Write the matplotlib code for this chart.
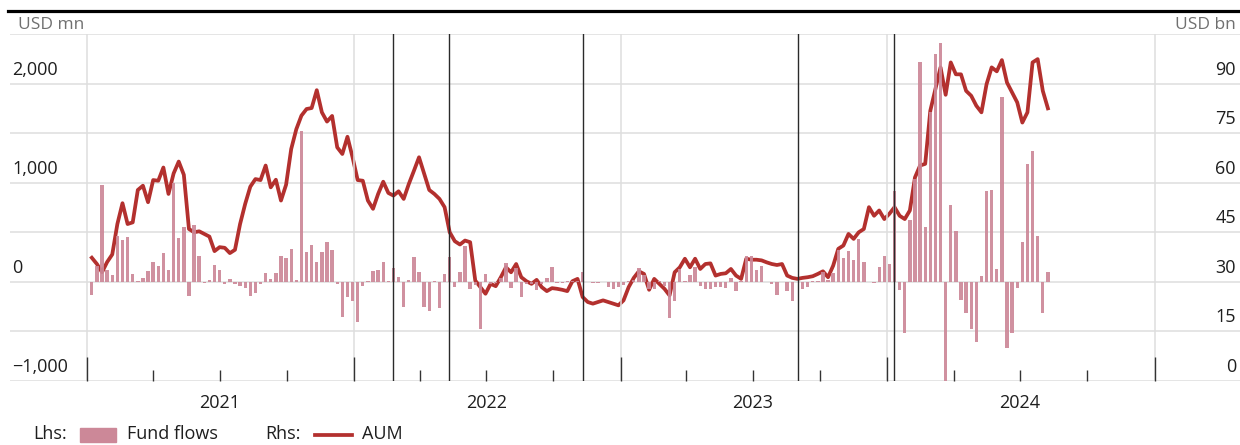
import numpy as np
import pandas as pd
import matplotlib
matplotlib.use("Agg")
import matplotlib.pyplot as plt
import matplotlib.dates as mdates
import matplotlib.transforms as mtransforms
from matplotlib.patches import Rectangle
from matplotlib.lines import Line2D

plt.rcParams['font.family'] = ['Open Sans', 'DejaVu Sans']

# weekly fund flows, USD mn (lhs)
flows = [
    -134, 158, 973, 117, 74, 460, 420, 456, 80, 7, 40, 107, 198, 164, 292, 117,
    997, 443, 550, -144, 570, 258, -10, 23, 171, 121, -20, 30, -17, -44, -60, -144,
    -111, -17, 87, 30, 87, 265, 238, 336, 17, 1517, 302, 369, 198, 299, 403,
    326, -17, -356, -154, -195, -403, -44, 6, 111, 124, 198, 4, 138, 50, -255, 17,
    252, 101, -252, -295, 4, -265, 77, 248, -54, 101, 366, -77, -30, -480, 80, -20,
    -10, 40, 191, -67, 138, -151, -17, -23, -87, -17, 40, 148, -10, -10, 5, 5,
    4, 101, -3, -10, -10, 3, -54, -77, -50, -34, 7, 17, 141, 74, -77, -77,
    4, -44, -362, -195, 131, 4, 67, 148, -37, -77, -70, -54, -54, -60, 40, -94,
    4, 258, 258, 124, 158, 3, -17, -128, 3, -94, -195, 3, -77, -54, 5, 5,
    101, 17, 91, 326, 242, 309, 225, 433, 201, -3, -10, 151, 265, 185, 913, -84,
    -513, 628, 1040, 2222, 554, 1718, 2299, 2406, -1150, 772, 510, -188, -312, -480, -607, 57,
    913, 923, 131, 1863, -664, -520, -60, 406, 1188, 1322, 460, -319, 104,
]

# assets under management, USD bn (rhs)
aum = [
    37.3, 35.4, 32.9, 36.0, 38.3, 47.5, 53.8, 47.5, 48.0, 57.8, 59.1, 54.1, 60.8, 60.6, 64.6, 56.6,
    62.8, 66.4, 62.4, 46.0, 45.0, 45.3, 44.5, 43.7, 39.3, 40.5, 40.3, 38.7, 39.7, 47.5, 53.6, 58.8,
    61.1, 60.8, 65.2, 58.6, 60.9, 54.6, 59.4, 70.2, 76.2, 80.3, 82.3, 82.6, 88.0, 81.3, 78.5,
    80.2, 70.7, 68.7, 73.9, 67.7, 60.8, 60.6, 54.6, 52.1, 56.6, 60.3, 56.9, 56.1, 57.4, 55.1, 59.6,
    63.6, 67.7, 62.8, 57.8, 56.6, 55.1, 52.6, 45.0, 42.3, 41.3, 42.5, 42.0, 30.4, 28.4, 26.4, 29.4,
    28.7, 31.4, 34.4, 32.9, 35.4, 31.4, 30.2, 29.4, 30.6, 28.4, 27.2, 28.1, 27.9, 27.6, 27.2, 30.2,
    30.9, 25.4, 23.9, 23.4, 23.9, 24.4, 23.9, 23.4, 22.9, 24.4, 28.4, 31.2, 33.2, 32.4, 27.6, 30.9,
    29.4, 27.9, 25.9, 32.9, 34.4, 37.0, 34.4, 37.0, 33.9, 35.4, 35.6, 31.9, 32.4, 32.6, 33.9, 31.9,
    30.9, 37.0, 36.7, 36.7, 36.5, 35.9, 35.4, 35.1, 35.4, 31.9, 31.2, 30.9, 31.2, 31.4, 31.7, 32.4,
    33.2, 31.4, 34.9, 40.0, 41.0, 44.5, 43.0, 45.0, 46.0, 52.6, 50.0, 51.6, 49.0, 50.6, 52.6, 50.0,
    49.0, 51.6, 61.6, 65.2, 65.7, 81.8, 88.3, 94.9, 86.6, 96.4, 92.8, 92.8, 87.8, 86.3, 83.3, 81.3,
    89.8, 94.9, 93.7, 97.1, 90.3, 87.3, 84.3, 78.2, 81.3, 96.4, 97.4, 87.8, 82.5,
]

first_week = '2021-01-07'
events = ['2022-02-24', '2022-05-11', '2022-11-11', '2023-09-01', '2024-01-10']
years = [2021, 2022, 2023, 2024, 2025]
lhs_ticks = [-1000, 0, 1000, 2000]
lhs_labels = ['\u22121,000', '0', '1,000', '2,000']
rhs_ticks = [0, 15, 30, 45, 60, 75, 90]

bar_col = '#cc8898'
line_col = '#b3302e'
grid_col = '#dedede'
txt_col = '#1e1e1e'

dates = pd.date_range(first_week, periods=len(flows), freq='7D')

W, H = 1240, 445
fig = plt.figure(figsize=(W / 100, H / 100), dpi=100)
ax = fig.add_axes([10 / W, 1 - 381 / H, 1230 / W, (381 - 34) / H])
ax2 = ax.twinx()
ax.set_zorder(2)
ax2.set_zorder(1)
ax.patch.set_visible(False)

ax2.plot(dates, aum, color=line_col, lw=2.7, solid_joinstyle='round', zorder=3)
ax.bar(dates, flows, width=4.6, color=bar_col, alpha=0.92, zorder=3)
for d in events:
    ax.axvline(pd.Timestamp(d), color='#2a2a2a', lw=1.0, zorder=4)

ax.set_ylim(-1000, 2500)
ax2.set_ylim(0, 105)
ax.set_xlim(pd.Timestamp('2020-09-17'), pd.Timestamp('2025-04-28'))

# horizontal grid on the rhs axis (lines coincide with lhs steps of 500)
ax2.set_yticks(np.arange(0, 106, 15))
ax2.grid(axis='y', color=grid_col, lw=1.1)
ax2.tick_params(axis='y', length=0, labelright=False)
ax.set_yticks([])

# x axis: year gridlines, tall ticks at years, short ticks at quarters
major = [mdates.date2num(pd.Timestamp(y, 1, 1)) for y in years]
minor = [mdates.date2num(pd.Timestamp(y, m, 1)) for y in years[:-1] for m in (4, 7, 10)]
minor_lab = [str(y) if m == 7 else '' for y in years[:-1] for m in (4, 7, 10)]
ax.set_xticks(major)
ax.set_xticklabels([''] * len(major))
ax.set_xticks(minor, minor=True)
ax.set_xticklabels(minor_lab, minor=True)
ax.tick_params(axis='x', which='major', direction='in', length=17, width=1.0, color='#333333')
ax.tick_params(axis='x', which='minor', direction='in', length=8, width=1.0, color='#333333',
               pad=9, labelsize=13, labelcolor=txt_col)
ax.grid(axis='x', which='major', color=grid_col, lw=1.1)

for a in (ax, ax2):
    for s in a.spines.values():
        s.set_visible(False)

# y labels sit just above their gridlines, inside the plot
off = mtransforms.ScaledTranslation(0, 14 / 100, fig.dpi_scale_trans)
tl = mtransforms.blended_transform_factory(ax.transAxes, ax.transData) + off
tr = mtransforms.blended_transform_factory(ax2.transAxes, ax2.transData) + off
for v, lab in zip(lhs_ticks, lhs_labels):
    ax.text(2 / 1230, v, lab, transform=tl, ha='left', va='center', fontsize=13, color=txt_col)
for v in rhs_ticks:
    ax2.text(1 - 4 / 1230, v, str(v), transform=tr, ha='right', va='center', fontsize=13, color=txt_col)

fig.text(18 / W, 1 - 25 / H, 'USD mn', ha='left', va='center', fontsize=12.5, color='#707070')
fig.text(1236 / W, 1 - 25 / H, 'USD bn', ha='right', va='center', fontsize=12.5, color='#707070')

# rule at top
fig.add_artist(Line2D([8 / W, 1], [1 - 11 / H] * 2, color='black', lw=2.3))

# legend row
ly = 2 / H
fig.text(33 / W, ly, 'Lhs:', fontsize=13, va='bottom', color=txt_col)
fig.add_artist(Rectangle((80 / W, 3 / H), 36 / W, 14 / H, color=bar_col, transform=fig.transFigure))
fig.text(127 / W, ly, 'Fund flows', fontsize=13, va='bottom', color=txt_col)
fig.text(265 / W, ly, 'Rhs:', fontsize=13, va='bottom', color=txt_col)
fig.add_artist(Line2D([315 / W, 352 / W], [10 / H] * 2, color=line_col, lw=2.7))
fig.text(362 / W, ly, 'AUM', fontsize=13, va='bottom', color=txt_col)

fig.savefig('out.png', dpi=100)
